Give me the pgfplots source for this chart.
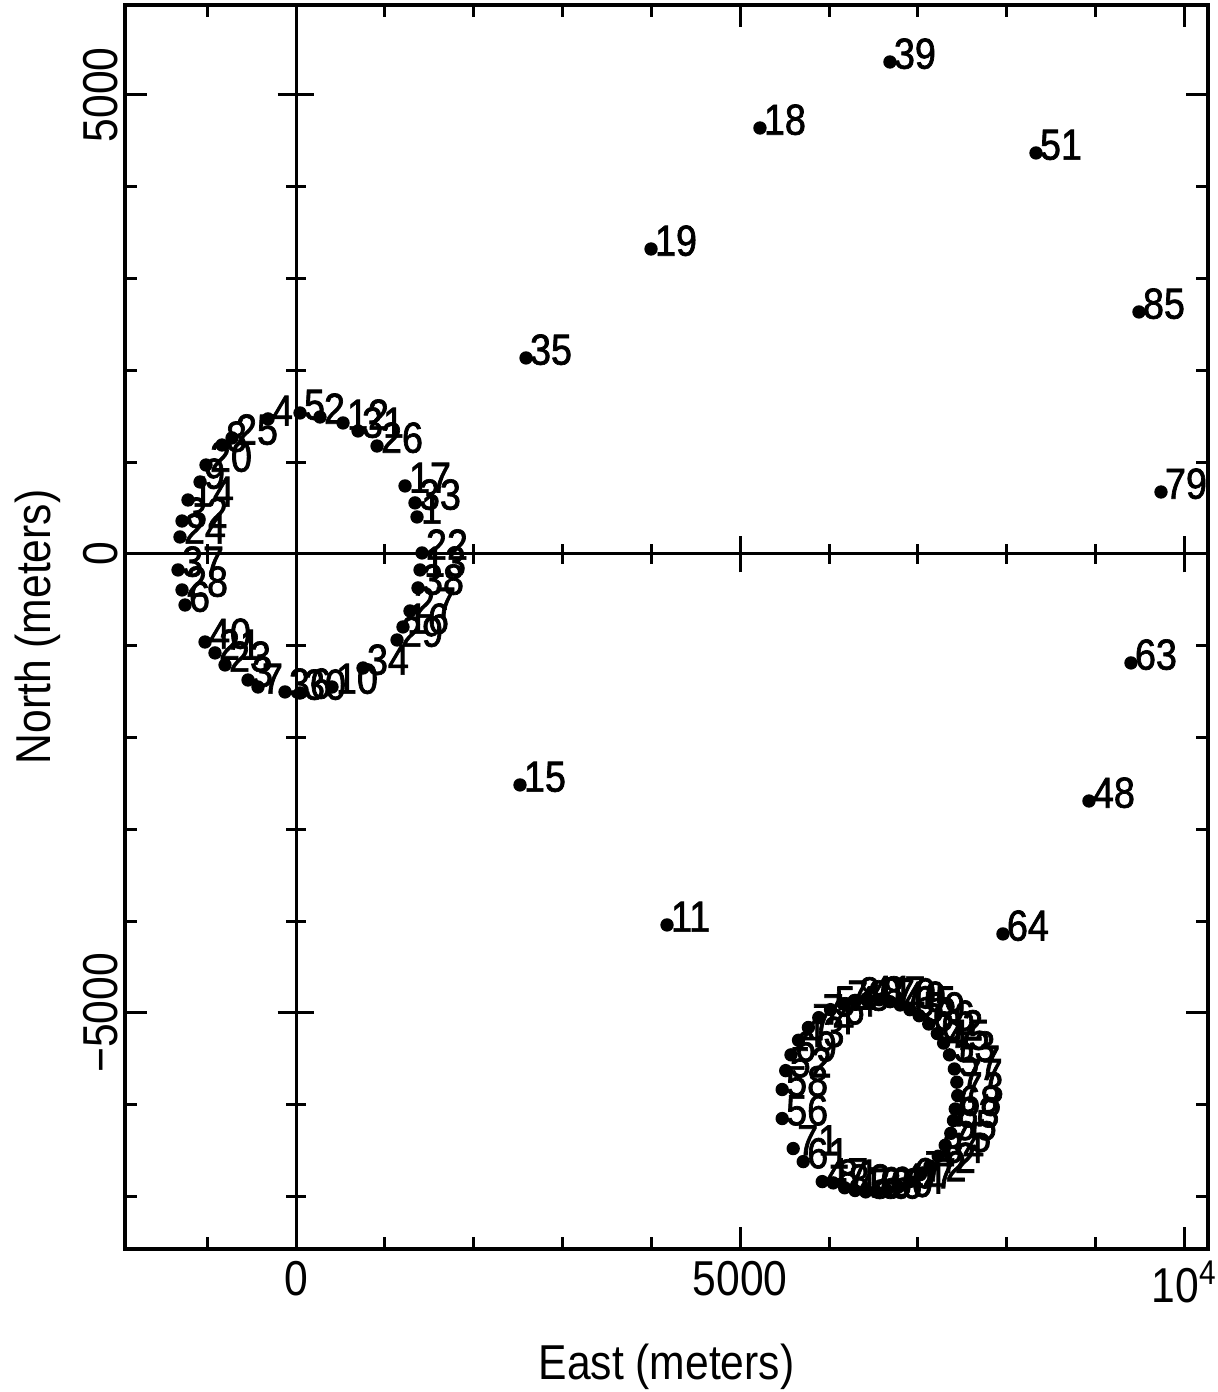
\documentclass[border=0pt]{standalone}
\usepackage{pgfplots}
\pgfplotsset{compat=1.18}
\usepackage{fontspec}
\setmainfont{Liberation Sans}[FakeStretch=0.87]
\newfontfamily\lblfont{Liberation Sans}[FakeStretch=0.87, FakeBold=1.6]
\pgfplotstableread{
x y l
6685 5359 39
5222 4640 18
8329 4368 51
3996 3322 19
9488 2636 85
2589 2135 35
9736 675 79
9398 -1187 63
2521 -2516 15
8925 -2691 48
4176 -4041 11
7957 -4139 64
-315 1471 4
45 1536 5
270 1492 2
529 1427 12
698 1340 31
912 1176 26
1227 741 17
1339 556 33
1362 403 1
1418 11 22
1396 -174 13
1373 -370 38
1283 -621 27
1204 -795 16
1137 -937 29
754 -1242 34
405 -1449 10
45 -1514 30
-124 -1503 36
-428 -1449 7
-540 -1373 3
-799 -1209 23
-912 -1078 21
-1024 -959 40
-1249 -556 6
-1283 -392 28
-1328 -174 37
-1306 185 24
-1283 359 32
-1216 588 14
-1080 784 9
-1013 969 20
-833 1187 8
-720 1264 25
5472 -5834 58
5472 -6150 56
5596 -6477 71
5709 -6619 61
5923 -6837 47
6046 -6851 81
6175 -6904 82
6292 -6934 46
6412 -6949 50
6532 -6948 86
6651 -6931 60
6784 -6893 44
6910 -6836 67
7028 -6760 72
7135 -6668 42
7228 -6560 84
7307 -6441 75
7370 -6311 55
7400 -6172 83
7420 -6046 68
7448 -5900 73
7438 -5754 77
7410 -5610 57
7355 -5456 53
7289 -5328 45
7218 -5225 62
7122 -5120 66
7014 -5030 59
6910 -4964 65
6800 -4913 49
6685 -4877 70
6566 -4856 87
6429 -4850 41
6292 -4866 80
6159 -4901 78
6016 -4964 54
5884 -5051 76
5767 -5158 74
5656 -5297 43
5571 -5456 69
5512 -5628 52
}\antennas
\begin{document}
\begin{tikzpicture}
\pgfplotsset{
  common/.style={
    scale only axis, width=324.9pt, height=373.2pt,
    xmin=-1925, xmax=10265, ymin=-7571, ymax=5980,
    scaled ticks=false,
    minor xtick={-1000,1000,2000,3000,4000,6000,7000,8000,9000},
    minor ytick={-7000,-6000,-4000,-3000,-2000,-1000,1000,2000,3000,4000},
    every tick/.style={black, line width=0.9pt},
  }
}
\begin{axis}[common, name=main,
  xtick={0,5000,10000}, xticklabels={0,5000,10\textsuperscript{4}},
  ytick={-5000,0,5000}, yticklabels={−5000,0,5000},
  tick align=inside,
  major tick length=6.5pt, minor tick length=3.5pt,
  axis line style={line width=1pt},
  ticklabel style={font=\fontsize{14.7}{17}\selectfont},
  xticklabel style={inner sep=3.5pt},
  yticklabel style={rotate=90, anchor=south, inner sep=2pt},
  xlabel={East (meters)}, ylabel={North (meters)},
  label style={font=\fontsize{14.7}{17}\selectfont},
  xlabel style={at={(axis description cs:0.5,-0.0949)}, anchor=center},
  ylabel style={at={(axis description cs:-0.0808,0.5)}, anchor=center},
]
\end{axis}
\begin{axis}[common,
  axis lines=center,
  axis line style={-, line width=0.9pt},
  every inner x axis line/.append style={-},
  every inner y axis line/.append style={-},
  xtick={5000,10000}, ytick={-5000,5000},
  xticklabels={}, yticklabels={},
  tick align=center,
  major tick length=11pt, minor tick length=6pt,
]
\addplot[only marks, mark=*, mark size=1.8pt, black,
  nodes near coords, point meta=explicit symbolic,
  nodes near coords style={font=\lblfont\fontsize{13}{15}\selectfont, anchor=base west, inner sep=0pt, xshift=1pt, yshift=-2pt, black}]
  table[x=x, y=y, meta=l] {\antennas};
\end{axis}
\pgfresetboundingbox
\path ([shift={(-37.5pt,-42.9pt)}]main.south west) rectangle ([shift={(2.7pt,1.5pt)}]main.north east);
\end{tikzpicture}
\end{document}
